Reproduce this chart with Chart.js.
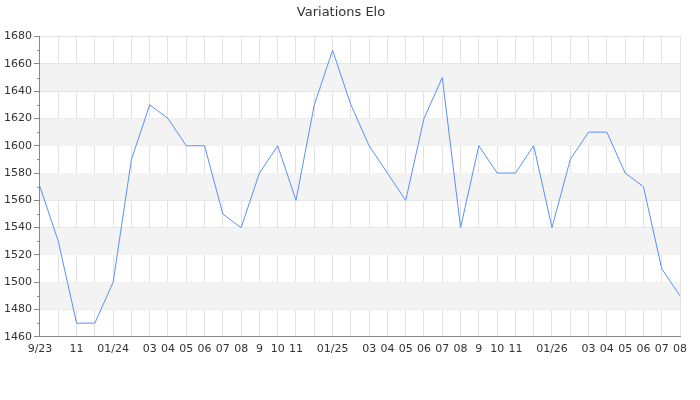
<!DOCTYPE html>
<html>
<head>
<meta charset="utf-8">
<script src="https://cdn.jsdelivr.net/npm/chart.js@4/dist/chart.umd.min.js"></script>
<style>
  html, body { margin: 0; padding: 0; background: #fff; }
  #wrap { width: 700px; height: 400px; }
</style>
</head>
<body>
<div id="wrap"><canvas id="elo"></canvas></div>
<script>
// one point per month, Sept 2023 -> Aug 2026
var months = [
	'2023-09','2023-10','2023-11','2023-12','2024-01','2024-02','2024-03','2024-04','2024-05','2024-06','2024-07','2024-08',
	'2024-09','2024-10','2024-11','2024-12','2025-01','2025-02','2025-03','2025-04','2025-05','2025-06','2025-07','2025-08',
	'2025-09','2025-10','2025-11','2025-12','2026-01','2026-02','2026-03','2026-04','2026-05','2026-06','2026-07','2026-08'
];
var tickLabels = [
	'9/23','','11','','01/24','','03','04','05','06','07','08',
	'9','10','11','','01/25','','03','04','05','06','07','08',
	'9','10','11','','01/26','','03','04','05','06','07','08'
];
var elo = [
	1570,1530,1470,1470,1500,1590,1630,1620,1600,1600,1550,1540,
	1580,1600,1560,1630,1670,1630,1600,1580,1560,1620,1650,1540,
	1600,1580,1580,1600,1540,1590,1610,1610,1580,1570,1510,1490
];
var yMin = 1460, yMax = 1680, yStep = 20;

// grey bands every other 20 points, plus little minor ticks on the y axis
var bands = {
	id: 'bands',
	beforeDatasetsDraw: function(chart) {
		var ctx = chart.ctx, y = chart.scales.y, area = chart.chartArea;
		ctx.save();
		ctx.fillStyle = '#f3f3f3';
		for (var v = yMin + yStep; v < yMax; v += 2 * yStep) {
			var top = y.getPixelForValue(v + yStep), bot = y.getPixelForValue(v);
			ctx.fillRect(area.left, top, area.right - area.left, bot - top);
		}
		ctx.restore();
	},
	afterDraw: function(chart) {
		var ctx = chart.ctx, y = chart.scales.y, left = chart.chartArea.left;
		ctx.save();
		ctx.strokeStyle = '#888';
		ctx.lineWidth = 1;
		ctx.beginPath();
		for (var v = yMin + yStep / 2; v < yMax; v += yStep) {
			var p = Math.round(y.getPixelForValue(v)) + 0.5;
			ctx.moveTo(left - 3, p);
			ctx.lineTo(left, p);
		}
		ctx.stroke();
		ctx.restore();
	}
};

new Chart(document.getElementById('elo'), {
	type: 'line',
	data: {
		labels: months,
		datasets: [{
			label: 'Elo',
			data: elo,
			borderColor: '#5b8ff9',
			borderWidth: 1,
			pointRadius: 0,
			tension: 0,
			fill: false
		}]
	},
	options: {
		responsive: true,
		maintainAspectRatio: false,
		animation: false,
		layout: { padding: { left: 2, right: 20, top: 0, bottom: 38 } },
		plugins: {
			legend: { display: false },
			tooltip: { enabled: false },
			title: {
				display: true,
				text: 'Variations Elo',
				color: '#333',
				font: { family: 'DejaVu Sans', size: 13, weight: 'normal' },
				padding: { top: 5, bottom: 16 }
			}
		},
		scales: {
			x: {
				offset: false,
				grid: { color: '#e2e2e2', drawTicks: false },
				border: { color: '#888' },
				ticks: {
					autoSkip: false,
					maxRotation: 0,
					padding: 6,
					color: '#333',
					font: { family: 'DejaVu Sans', size: 11 },
					callback: function(v, i) { return tickLabels[i]; }
				}
			},
			y: {
				min: yMin,
				max: yMax,
				grid: { color: '#e2e2e2', tickColor: '#888', tickLength: 6 },
				border: { color: '#888' },
				ticks: {
					stepSize: yStep,
					padding: 2,
					color: '#333',
					font: { family: 'DejaVu Sans', size: 11 },
					callback: function(v) { return String(v); }
				}
			}
		}
	},
	plugins: [bands]
});
</script>
</body>
</html>
